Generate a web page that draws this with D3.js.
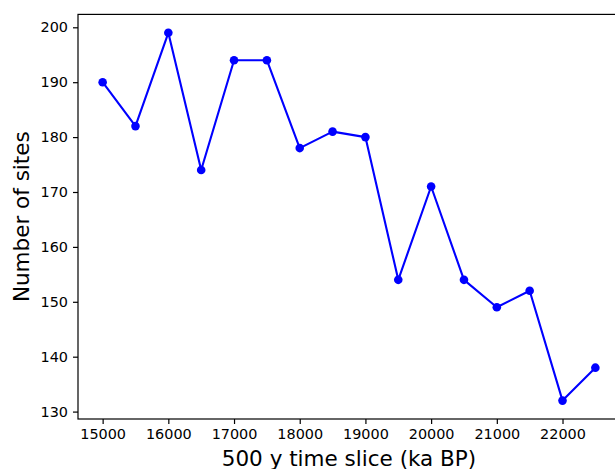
<!DOCTYPE html>
<html>
<head>
<meta charset="utf-8">
<script src="https://cdn.jsdelivr.net/npm/d3@7"></script>
<style>
  body { margin: 0; background: #fff; }
  text { font-family: "DejaVu Sans", sans-serif; fill: #000; }
</style>
</head>
<body>
<svg width="615" height="469"></svg>
<script>
// time slices (years BP) and number of sites
var slices = [15000, 15500, 16000, 16500, 17000, 17500, 18000, 18500,
              19000, 19500, 20000, 20500, 21000, 21500, 22000, 22500];
var sites = [190, 182, 199, 174, 194, 194, 178, 181,
             180, 154, 171, 154, 149, 152, 132, 138];
var xTicks = [15000, 16000, 17000, 18000, 19000, 20000, 21000, 22000];
var yTicks = [130, 140, 150, 160, 170, 180, 190, 200];

var svg = d3.select("svg");
var plotL = 78, plotR = 620, plotT = 14.4, plotB = 419;

var x = d3.scaleLinear().domain([14625, 22875]).range([plotL, plotR]);
var y = d3.scaleLinear().domain([128.65, 202.35]).range([plotB, plotT]);

var data = slices.map(function(s, i) { return {x: s, y: sites[i]}; });

// axes
var xAxis = svg.append("g")
  .attr("transform", "translate(0," + plotB + ")")
  .call(d3.axisBottom(x).tickValues(xTicks).tickSizeOuter(0).tickSize(5).tickPadding(5).tickFormat(d3.format("d")));
var yAxis = svg.append("g")
  .attr("transform", "translate(" + plotL + ",0)")
  .call(d3.axisLeft(y).tickValues(yTicks).tickSizeOuter(0).tickSize(5).tickPadding(5));

[xAxis, yAxis].forEach(function(a) {
  a.select(".domain").remove();
  a.selectAll("line").attr("stroke", "#000").attr("stroke-width", 1.2);
  a.selectAll("text").attr("font-size", "14.4px").attr("font-family", "DejaVu Sans").attr("fill", "#000");
});

// spines
svg.append("rect")
  .attr("x", plotL).attr("y", plotT)
  .attr("width", plotR - plotL).attr("height", plotB - plotT)
  .attr("fill", "none").attr("stroke", "#000").attr("stroke-width", 1.2);

// line + markers
var line = d3.line().x(function(d) { return x(d.x); }).y(function(d) { return y(d.y); });
svg.append("path")
  .datum(data)
  .attr("d", line)
  .attr("fill", "none")
  .attr("stroke", "#0000ff")
  .attr("stroke-width", 2.1)
  .attr("stroke-linejoin", "round");

svg.selectAll(".dot")
  .data(data)
  .enter().append("circle")
  .attr("class", "dot")
  .attr("cx", function(d) { return x(d.x); })
  .attr("cy", function(d) { return y(d.y); })
  .attr("r", 4.3)
  .attr("fill", "#0000ff");

// axis labels
svg.append("text")
  .attr("x", 349).attr("y", 466)
  .attr("text-anchor", "middle")
  .attr("font-size", "21.5px")
  .text("500 y time slice (ka BP)");

svg.append("text")
  .attr("transform", "translate(29," + (plotT + plotB) / 2 + ") rotate(-90)")
  .attr("text-anchor", "middle")
  .attr("font-size", "21.5px")
  .text("Number of sites");
</script>
</body>
</html>
